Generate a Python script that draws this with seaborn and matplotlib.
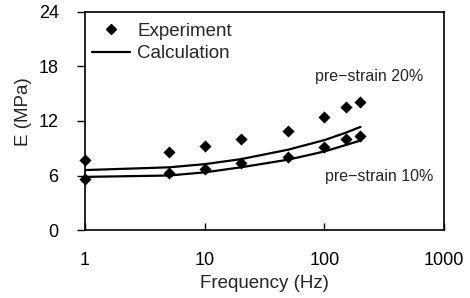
import matplotlib
matplotlib.use("Agg")
import matplotlib.pyplot as plt
import seaborn as sns
import pandas as pd
from matplotlib.lines import Line2D

freq = [1, 5, 10, 20, 50, 100, 150, 200]
exp_20 = [7.71, 8.62, 9.25, 9.99, 10.90, 12.48, 13.51, 14.13]
exp_10 = [5.62, 6.24, 6.69, 7.35, 8.07, 9.17, 9.99, 10.35]
calc_20 = [6.6, 6.9, 7.25, 7.8, 8.85, 9.9, 10.7, 11.35]
calc_10 = [5.85, 6.0, 6.35, 6.9, 7.75, 8.65, 9.35, 9.85]
y_ticks = [0, 6, 12, 18, 24]
x_ticks = [1, 10, 100, 1000]
x_ticklabels = ["1", "10", "100", "1000"]

sns.set_style("ticks")
plt.rcParams['font.family'] = ['Liberation Sans', 'DejaVu Sans']

exp_df = pd.DataFrame({
    "freq": freq * 2,
    "E": exp_20 + exp_10,
    "strain": ["20%"] * len(freq) + ["10%"] * len(freq),
})
calc_df = pd.DataFrame({
    "freq": freq * 2,
    "E": calc_20 + calc_10,
    "strain": ["20%"] * len(freq) + ["10%"] * len(freq),
})

fig = plt.figure(figsize=(4.70, 2.98), dpi=100)
ax = fig.add_axes([0.181, 0.228, 0.764, 0.732])

sns.lineplot(data=calc_df, x="freq", y="E", units="strain", estimator=None,
             color="black", linewidth=1.6, ax=ax, legend=False)
sns.scatterplot(data=exp_df, x="freq", y="E", marker="D", s=38,
                color="black", edgecolor="black", linewidth=0, ax=ax, legend=False,
                zorder=3, clip_on=False)

ax.set_xscale("log")
ax.set_xlim(1, 1000)
ax.set_ylim(0, 24)
ax.set_xticks(x_ticks)
ax.set_xticklabels(x_ticklabels)
ax.minorticks_off()
ax.set_yticks(y_ticks)

for sp in ax.spines.values():
    sp.set_visible(True)
    sp.set_linewidth(1.2)
    sp.set_color("black")

ax.tick_params(axis="x", direction="in", length=5, width=1, pad=16, labelsize=13, colors="black")
ax.tick_params(axis="y", direction="out", length=6, width=1, pad=13, labelsize=13, colors="black")

ax.set_xlabel("Frequency (Hz)", fontsize=13.5)
ax.set_ylabel("E (MPa)", fontsize=13.5)
ax.xaxis.set_label_coords(0.5, -0.205)
ax.yaxis.set_label_coords(-0.148, 0.545)

ax.text(83.4, 16.85, "pre\u2212strain 20%", fontsize=11.5, ha="left", va="center")
ax.text(101, 5.84, "pre\u2212strain 10%", fontsize=11.5, ha="left", va="center")

handles = [
    Line2D([], [], marker="D", color="black", linestyle="none", markersize=5.5),
    Line2D([], [], color="black", linewidth=1.6),
]
ax.legend(handles, ["Experiment", "Calculation"], loc="upper left",
          bbox_to_anchor=(-0.017, 1.01), frameon=False, fontsize=13.5,
          handlelength=2.0, handletextpad=0.4, labelspacing=0.28,
          borderpad=0.25, borderaxespad=0.45)

fig.savefig("out.png", dpi=100)
